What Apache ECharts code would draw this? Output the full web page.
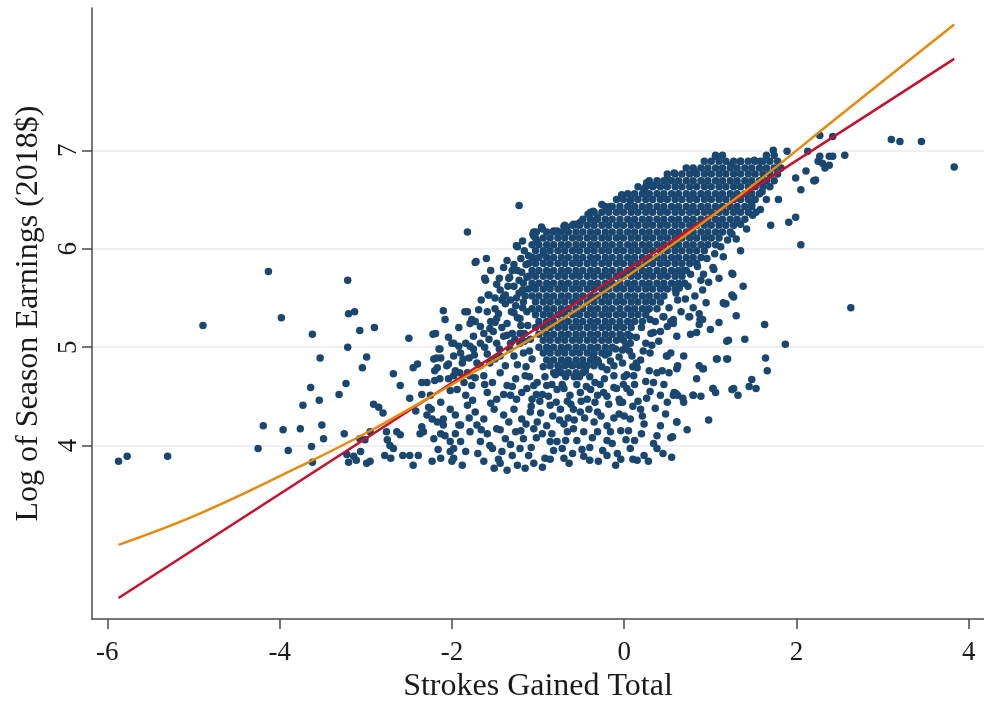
<!DOCTYPE html>
<html>
<head>
<meta charset="utf-8">
<script src="https://cdn.jsdelivr.net/npm/echarts@6/dist/echarts.min.js"></script>
<style>
html,body{margin:0;padding:0;background:#fff;}
#chart{width:984px;height:708px;}
</style>
</head>
<body>
<div id="chart"></div>
<script>
// Tick values shown on each axis
const xTicks = [-6, -4, -2, 0, 2, 4];
const yTicks = [4, 5, 6, 7];

// Player-seasons far from the main cloud (left tail and floor)
const farPoints = [
  [-5.87,3.84],[-5.77,3.89],[-5.30,3.89],[-4.89,5.22],[-4.13,5.77],[-3.98,5.30],[-3.62,5.13],
  [-3.21,5.68],[-3.20,5.34],[-3.13,5.36],[-3.07,5.17],[-2.90,5.20],[-3.21,5.00],[-2.99,4.90],
  [-3.04,4.79],[-3.53,4.89],[-3.64,4.59],[-3.23,4.63],[-3.31,4.52],[-3.73,4.41],[-3.54,4.46],
  [-4.19,4.20],[-3.96,4.16],[-3.76,4.17],[-3.51,4.21],[-3.49,4.07],[-3.25,4.12],[-4.25,3.97],
  [-3.90,3.95],[-3.63,3.99],[-3.62,3.83],[-3.20,3.83],[-3.11,3.85],[-3.22,3.91],[-3.14,3.89],
  [-2.99,3.82],[-2.95,3.84],[-3.07,4.07],[-3.01,4.06],[-2.95,4.14],[-2.91,4.42],[-2.85,4.39],
  [-2.80,4.33],[-2.76,4.14],[-2.75,4.06],[-2.72,4.00],[-2.68,3.97],[-2.78,3.90],[-2.71,3.87],
  [-2.64,4.14],[-2.60,4.11],[-2.57,3.90],[-2.49,3.90],[-2.39,3.90],[-2.45,3.80],[-2.60,4.61],
  [-2.68,4.73],[-2.50,5.09],[-2.49,4.48],[-2.42,4.35],[-2.45,4.79],[-2.40,4.83],[-2.37,4.12],
  [-2.35,4.19],[-2.35,4.52],[-2.35,4.64],[-3.06,3.94]
];

// Fan of points left of the main cloud
const fanPoints = [
  [-1.82,6.17],[-1.22,6.44],[-1.73,5.86],[-1.60,5.90],[-1.40,5.81],[-1.24,6.02],[-1.11,5.93],
  [-1.06,6.15],[-1.01,6.08],[-1.61,5.68],[-1.34,5.70],[-1.24,5.78],[-1.17,5.65],[-1.13,5.71],
  [-1.57,5.53],[-1.44,5.58],[-1.40,5.51],[-1.32,5.48],[-1.22,5.55],[-1.17,5.46],[-1.05,5.61],
  [-2.10,5.37],[-2.08,5.28],[-1.82,5.36],[-1.69,5.38],[-1.59,5.36],[-1.50,5.39],[-1.77,5.28],
  [-1.67,5.21],[-1.55,5.26],[-1.48,5.29],[-1.36,5.24],[-1.28,5.35],[-1.21,5.29],[-1.13,5.36],
  [-2.22,5.13],[-2.19,5.14],[-1.98,5.04],[-1.92,5.01],[-1.84,5.04],[-1.75,4.98],[-1.67,5.04],
  [-1.57,5.08],[-1.48,5.04],[-1.40,5.11],[-1.32,5.04],[-1.21,5.14],[-1.09,5.08],[-1.90,4.94],
  [-1.80,4.89],[-1.71,4.84],[-1.59,4.93],[-1.50,4.88],[-1.38,4.81],[-1.28,4.91],[-1.17,4.94],
  [-1.07,4.88],[-2.06,4.81],[-1.96,4.76],[-2.04,4.68],[-1.82,4.74],[-1.73,4.69],[-1.77,4.61],
  [-1.63,4.71],[-1.53,4.64],[-1.44,4.74],[-1.36,4.61],[-1.26,4.68],[-1.15,4.71],[-1.05,4.61],
  [-1.59,4.54],[-1.48,4.47],[-1.32,4.51],[-1.19,4.54],[-1.07,4.47],[-1.94,4.57],[-1.84,4.51],
  [-2.13,4.44],[-2.02,4.37],[-2.10,4.27],[-1.96,4.31],[-1.82,4.41],[-1.73,4.34],[-1.63,4.27],
  [-1.51,4.37],[-1.40,4.31],[-1.28,4.37],[-1.19,4.27],[-1.09,4.34],[-1.90,4.21],[-1.79,4.14],
  [-1.71,4.21],[-1.59,4.12],[-1.48,4.17],[-1.38,4.07],[-1.26,4.14],[-1.17,4.07],[-1.05,4.17],
  [-1.67,4.04],[-1.53,3.97],[-1.42,3.94],[-1.32,4.01],[-1.21,3.97],[-1.11,3.90],[-1.63,3.84],
  [-1.51,3.77],[-1.44,3.82],[-1.36,3.75],[-1.24,3.80],[-1.15,3.77],[-1.05,3.82],[-1.90,4.04],
  [-1.84,3.94],[-1.98,3.87],[-2.23,3.84],[-2.13,3.87],[-2.02,3.94],[-2.00,3.84],[-2.02,4.04],
  [-1.98,3.97],[-1.92,4.21],[-1.96,4.12],[-2.15,4.98],[-2.21,4.88],[-2.13,4.89],[-2.17,4.79],
  [-2.25,4.51],[-2.27,4.39],[-2.29,4.31],[-2.23,4.27],[-2.17,4.24],[-2.33,4.14],[-2.21,4.07],
  [-2.13,4.12],[-2.10,4.21],[-2.24,4.37],[-2.20,4.66],[-2.29,4.64],[-2.14,4.68],[-1.98,4.71],
  [-1.91,4.74],[-1.79,4.71],[-1.67,4.81],[-1.56,4.84],[-1.44,4.91],[-1.33,4.98],[-1.21,5.04],
  [-1.72,5.87],[-1.25,6.03],[-1.62,5.70],[-1.58,5.53],[-1.33,5.71],[-1.42,5.48],[-1.38,5.53],
  [-1.85,5.36],[-1.79,5.24],[-1.73,5.26],[-1.63,5.14],[-1.56,5.19],[-1.50,5.25],[-2.00,5.04],
  [-2.14,4.98],[-1.98,4.91],[-2.18,4.89],[-2.04,4.83],[-2.20,4.76],[-1.87,4.88],[-1.79,5.01],
  [-1.75,5.11],[-1.04,5.90],[-0.94,5.95],
  [-1.12,5.22],[-1.16,5.06],[-1.10,4.96],[-1.14,4.80],[-1.10,4.70],[-1.13,4.58],[-1.02,4.52],
  [-1.08,4.40],[-1.14,4.22],[-1.02,4.08],[-1.08,3.98],[-1.20,4.15],[-1.25,4.47],[-1.24,4.82],
  [-1.30,4.60],[-1.34,4.24],[-1.30,3.90],[-1.40,4.52],[-1.44,4.16],[-1.46,3.86],[-1.55,4.43],
  [-1.56,4.00],[-1.62,4.62],[-1.66,4.16],[-1.70,3.92],[-1.76,4.46],[-1.80,4.28],[-1.86,4.64],
  [-1.88,4.84],[-1.74,4.92],[-1.62,5.00],[-1.52,5.16],[-1.45,4.98],[-1.42,5.20],[-1.30,5.14],
  [-1.26,5.42],[-1.18,5.58],[-1.28,5.62],[-1.48,5.64],[-1.36,5.88],[-1.14,5.84],[-1.18,6.08],
  [-1.55,5.78],[-1.66,5.48],[-1.92,5.20],[-2.04,5.10],[-2.02,4.56],[-2.08,4.10],[-2.16,3.96],
  [-1.88,3.80],
  [-1.16,5.98],[-1.20,5.90],[-1.28,5.84],[-1.19,5.76],[-1.30,5.78],[-1.22,5.68],[-1.35,5.62],
  [-1.25,5.50],[-1.18,5.40],[-1.31,5.36],[-1.24,5.30],[-1.16,5.14],[-1.38,5.44],[-1.45,5.70],
  [-1.50,5.50],[-1.15,5.52],[-1.20,5.22],[-1.27,5.08],[-1.36,5.12],[-1.46,5.34]
];

// Points below the main cloud, down to the earnings floor
const lowerPoints = [
  [-0.92,3.87],[-0.70,3.87],[-0.47,3.89],[-0.20,3.90],[-0.04,3.86],[0.07,3.97],[0.23,3.90],
  [0.38,3.97],[0.54,4.08],[0.61,4.24],[0.48,4.32],[0.38,4.10],[0.23,4.22],[0.07,4.27],
  [-0.06,4.32],[-0.20,4.05],[-0.31,4.14],[-0.47,4.14],[-0.59,4.17],[-0.66,4.14],[-0.78,4.04],
  [-0.72,3.97],[-0.86,4.04],[-1.01,4.24],[-0.90,4.20],[-0.70,4.22],[-0.51,4.34],[-0.41,4.37],
  [-0.31,4.34],[-0.20,4.20],[-0.04,4.15],[0.05,4.15],[-0.16,4.14],[-0.31,4.51],[-0.24,4.54],
  [-0.06,4.47],[-0.02,4.44],[0.07,4.54],[0.19,4.37],[0.21,4.30],[0.46,4.62],[0.52,4.74],
  [0.58,4.54],[0.62,4.51],[0.44,4.76],[0.38,4.74],[0.29,4.76],[0.15,4.79],[0.03,4.72],
  [-0.01,4.62],[-0.12,4.59],[-0.28,4.62],[-0.39,4.57],[-0.51,4.54],[-0.63,4.51],[-0.78,4.57],
  [-0.90,4.61],[-1.01,4.64],[-0.86,4.41],[-0.74,4.37],[-0.59,4.37],[-0.43,4.47],[0.50,4.91],
  [0.54,4.94],[0.62,4.81],[0.50,5.21],[0.54,5.26],[0.46,5.31],[0.27,5.38],[0.31,5.14],
  [0.25,5.04],[0.07,5.04],[-0.02,4.97],[0.09,4.91],[0.19,4.87],[-0.02,4.84],[-0.12,4.81],
  [-0.12,4.71],[-0.20,4.77],[-0.04,5.12],[0.07,5.11],[-0.98,4.45],[-0.95,4.12],[-0.83,4.30],
  [-0.65,4.28],[-0.55,4.05],[-0.40,3.98],[-0.35,4.24],[-0.25,3.95],[-0.12,4.28],[0.12,4.05],
  [0.16,4.45],[0.30,4.55],[0.34,4.02],[-0.60,3.92],[-0.82,3.95],[-0.95,3.78],[-0.30,3.84],
  [0.15,3.85],[0.45,3.92],[-0.55,4.62],[-0.68,4.70],[-0.40,4.70],[-0.30,4.85],[0.25,4.65],
  [-0.80,4.72],[-0.95,4.52],
  [-0.97,4.33],[-0.88,4.50],[-0.84,4.12],[-0.79,4.44],[-0.75,4.26],[-0.72,4.62],[-0.68,4.05],
  [-0.62,4.42],[-0.58,4.26],[-0.52,4.70],[-0.49,3.96],[-0.46,4.28],[-0.44,4.60],[-0.37,4.08],
  [-0.34,4.44],[-0.27,4.30],[-0.23,4.68],[-0.18,4.42],[-0.14,4.02],[-0.09,4.58],[-0.08,3.92],
  [0.00,4.30],[0.02,4.06],[0.10,4.40],[0.12,4.62],[0.20,4.12],[0.26,4.48],[0.28,3.84],
  [0.36,4.38],[0.42,4.20],[0.50,4.44],[0.55,3.88],[-0.86,3.86],[-0.64,3.82],[-0.40,3.85],
  [-0.10,3.80],[0.10,3.86],[-0.76,4.78],[-0.62,4.82],[-0.48,4.82],[-0.36,4.90],[-0.22,4.92],
  [-0.10,4.98],[0.02,5.02],[0.14,5.10],[0.20,5.20],[0.36,5.26],[0.40,5.06],
  [-0.92,4.70],[-0.84,4.62],[-0.70,4.58],[-0.58,4.70],[-0.45,4.76],[-0.34,4.64],[-0.26,4.80],
  [-0.16,4.86],[-0.06,4.90],[0.06,4.96],[-0.94,4.80],[-0.66,4.45],[-0.50,4.45],[-0.20,4.50],
  [0.00,4.70],[0.10,4.80],[0.22,4.96],[0.32,5.02],[0.42,5.16],[0.30,5.28]
];

// Points to the right of the main cloud
const rightPoints = [
  [2.27,7.15],[2.42,7.14],[3.10,7.11],[3.20,7.09],[3.45,7.09],[3.83,6.83],[2.27,6.94],
  [2.30,6.87],[2.33,6.82],[2.38,6.94],[2.42,6.94],[2.38,6.85],[2.56,6.95],[2.21,6.69],
  [2.22,6.70],[2.63,5.40],[1.73,7.00],[1.89,6.99],[2.13,6.99],[2.25,6.89],[2.11,6.79],
  [2.20,6.69],[2.05,6.60],[1.99,6.72],[1.79,6.50],[1.70,6.24],[1.91,6.27],[1.99,6.32],
  [2.05,6.04],[1.53,6.37],[1.49,6.34],[1.35,5.98],[1.20,6.09],[1.26,5.74],[1.04,5.79],
  [0.92,5.74],[0.89,5.68],[0.77,5.74],[0.69,5.78],[0.71,5.49],[0.62,5.48],[0.91,5.58],
  [1.16,5.44],[1.27,5.51],[1.63,5.23],[1.87,5.03],[1.21,5.07],[1.40,5.08],[1.08,4.88],
  [1.20,4.88],[1.64,4.89],[1.66,4.76],[0.87,4.81],[0.91,4.78],[1.48,4.67],[1.45,4.60],
  [1.53,4.58],[1.03,4.58],[1.06,4.54],[1.25,4.57],[1.32,4.51],[0.80,4.51],[0.89,4.50],
  [0.68,4.48],[0.60,4.53],[0.98,4.26],[0.61,4.24],[0.73,4.16],[0.56,4.09],[0.75,5.31],
  [0.87,5.34],[0.91,5.28],[0.87,5.23],[0.77,5.13],[1.18,5.44],[0.57,5.28],[1.03,5.81],
  [1.25,5.75],[1.25,5.53],[1.15,5.45],[1.19,5.06],[1.07,4.88],[1.19,4.88],[0.92,4.78],
  [0.84,4.68],[1.03,4.58],[1.27,4.58],[0.69,4.91],[0.49,4.91],[0.61,4.78],[0.76,5.31],
  [0.88,5.28],[0.84,5.15],[0.57,5.24],[0.61,5.11],[0.45,5.31],[0.34,5.15],[0.30,4.94],
  [0.14,4.84],[0.11,4.71],[0.03,4.58],[-0.05,4.44],[0.34,4.64],[0.42,4.51],[0.57,4.51],
  [0.69,4.44],[0.80,4.51],
  [0.64,5.60],[0.74,5.62],[0.82,5.52],[0.98,5.66],[1.10,5.70],[0.80,5.40],[0.95,5.45],
  [1.05,5.95],[1.15,5.92],[1.30,6.10],[1.42,6.20],[1.58,6.40],[1.65,6.50],[0.66,5.36],
  [1.00,5.18],[1.30,5.32],[1.38,5.62],[1.10,5.25],
  [0.52,5.40],[0.60,5.55],[0.70,5.65],[0.85,5.82],[0.96,5.90],[1.12,6.02],[1.25,6.15],
  [1.35,6.25],[1.48,6.45],[1.60,6.58]
];

// Ragged upper edge of the main cloud
const edgePoints = [
  [-1.05,6.17],[-0.95,6.20],[-0.82,6.18],[-0.70,6.23],[-0.59,6.25],[-0.51,6.27],[-0.39,6.37],
  [-0.31,6.32],[-0.16,6.43],[-0.02,6.54],[0.07,6.49],[0.23,6.60],[0.34,6.64],[0.50,6.72],
  [0.58,6.77],[-1.05,6.13],[-1.02,6.17],[-0.96,6.22],[-0.78,6.18],[-0.67,6.22],[-0.55,6.25],
  [-0.42,6.35],[-0.36,6.38],[-0.26,6.45],[-0.03,6.55],[0.26,6.67],[0.49,6.70],[0.81,6.80],
  [1.06,6.94],[1.24,6.85],[1.35,6.89],[1.51,6.90],[1.58,6.89],[-1.25,6.03]
];

// Densest part of the cloud, one row of strokes-gained values per earnings level
const coreRows = [
  [6.95,[1.06,1.14,1.65,1.74]],
  [6.89,[0.93,1.01,1.10,1.18,1.27,1.35,1.44,1.52,1.61,1.69,1.78]],
  [6.82,[0.72,0.80,0.89,0.97,1.06,1.14,1.23,1.31,1.40,1.48,1.57,1.65,1.74,1.82]],
  [6.76,[0.50,0.59,0.67,0.76,0.84,0.93,1.01,1.10,1.18,1.27,1.35,1.44,1.52,1.61,1.69,1.78]],
  [6.69,[0.29,0.38,0.46,0.55,0.63,0.72,0.80,0.89,0.97,1.06,1.14,1.23,1.31,1.40,1.48,1.57,1.65,1.74]],
  [6.63,[0.16,0.25,0.33,0.42,0.50,0.59,0.67,0.76,0.84,0.93,1.01,1.10,1.18,1.27,1.35,1.44,1.52,1.61,1.69]],
  [6.56,[0.04,0.12,0.21,0.29,0.38,0.46,0.55,0.63,0.72,0.80,0.89,0.97,1.06,1.14,1.23,1.31,1.40,1.48,1.57]],
  [6.50,[-0.09,-0.01,0.08,0.16,0.25,0.33,0.42,0.50,0.59,0.67,0.76,0.84,0.93,1.01,1.10,1.18,1.27,1.35,1.44,1.52]],
  [6.43,[-0.22,-0.14,-0.05,0.04,0.12,0.21,0.29,0.38,0.46,0.55,0.63,0.72,0.80,0.89,0.97,1.06,1.14,1.23,1.31,1.40,1.48]],
  [6.37,[-0.35,-0.26,-0.18,-0.09,-0.01,0.08,0.16,0.25,0.33,0.42,0.50,0.59,0.67,0.76,0.84,0.93,1.01,1.10,1.18,1.27,1.35,1.44]],
  [6.30,[-0.48,-0.39,-0.31,-0.22,-0.14,-0.05,0.04,0.12,0.21,0.29,0.38,0.46,0.55,0.63,0.72,0.80,0.89,0.97,1.06,1.14,1.23,1.31,1.40]],
  [6.24,[-0.69,-0.60,-0.52,-0.43,-0.35,-0.26,-0.18,-0.09,-0.01,0.08,0.16,0.25,0.33,0.42,0.50,0.59,0.67,0.76,0.84,0.93,1.01,1.10,1.18,1.27]],
  [6.17,[-0.90,-0.82,-0.73,-0.65,-0.56,-0.48,-0.39,-0.31,-0.22,-0.14,-0.05,0.04,0.12,0.21,0.29,0.38,0.46,0.55,0.63,0.72,0.80,0.89,0.97,1.06,1.14,1.23]],
  [6.11,[-1.03,-0.94,-0.86,-0.77,-0.69,-0.60,-0.52,-0.43,-0.35,-0.26,-0.18,-0.09,-0.01,0.08,0.16,0.25,0.33,0.42,0.50,0.59,0.67,0.76,0.84,0.93,1.01,1.10]],
  [6.04,[-1.07,-0.99,-0.90,-0.82,-0.73,-0.65,-0.56,-0.48,-0.39,-0.31,-0.22,-0.14,-0.05,0.04,0.12,0.21,0.29,0.38,0.46,0.55,0.63,0.72,0.80,0.89,0.97,1.06]],
  [5.98,[-1.03,-0.94,-0.86,-0.77,-0.69,-0.60,-0.52,-0.43,-0.35,-0.26,-0.18,-0.09,-0.01,0.08,0.16,0.25,0.33,0.42,0.50,0.59,0.67,0.76,0.84,0.93]],
  [5.91,[-1.07,-0.99,-0.90,-0.82,-0.73,-0.65,-0.56,-0.48,-0.39,-0.31,-0.22,-0.14,-0.05,0.04,0.12,0.21,0.29,0.38,0.46,0.55,0.63,0.72,0.80,0.89]],
  [5.85,[-1.11,-1.03,-0.94,-0.86,-0.77,-0.69,-0.60,-0.52,-0.43,-0.35,-0.26,-0.18,-0.09,-0.01,0.08,0.16,0.25,0.33,0.42,0.50,0.59,0.67,0.76,0.84]],
  [5.78,[-1.07,-0.99,-0.90,-0.82,-0.73,-0.65,-0.56,-0.48,-0.39,-0.31,-0.22,-0.14,-0.05,0.04,0.12,0.21,0.29,0.38,0.46,0.55,0.63,0.72]],
  [5.72,[-1.11,-1.03,-0.94,-0.86,-0.77,-0.69,-0.60,-0.52,-0.43,-0.35,-0.26,-0.18,-0.09,-0.01,0.08,0.16,0.25,0.33,0.42,0.50,0.59,0.67]],
  [5.65,[-1.07,-0.99,-0.90,-0.82,-0.73,-0.65,-0.56,-0.48,-0.39,-0.31,-0.22,-0.14,-0.05,0.04,0.12,0.21,0.29,0.38,0.46,0.55,0.63]],
  [5.59,[-1.11,-1.03,-0.94,-0.86,-0.77,-0.69,-0.60,-0.52,-0.43,-0.35,-0.26,-0.18,-0.09,-0.01,0.08,0.16,0.25,0.33,0.42,0.50,0.59]],
  [5.52,[-1.07,-0.99,-0.90,-0.82,-0.73,-0.65,-0.56,-0.48,-0.39,-0.31,-0.22,-0.14,-0.05,0.04,0.12,0.21,0.29,0.38,0.46]],
  [5.46,[-1.03,-0.94,-0.86,-0.77,-0.69,-0.60,-0.52,-0.43,-0.35,-0.26,-0.18,-0.09,-0.01,0.08,0.16,0.25,0.33,0.42]],
  [5.39,[-1.07,-0.99,-0.90,-0.82,-0.73,-0.65,-0.56,-0.48,-0.39,-0.31,-0.22,-0.14,-0.05,0.04,0.12,0.21,0.29,0.38]],
  [5.33,[-1.03,-0.94,-0.86,-0.77,-0.69,-0.60,-0.52,-0.43,-0.35,-0.26,-0.18,-0.09,-0.01,0.08,0.16,0.25]],
  [5.26,[-0.99,-0.90,-0.82,-0.73,-0.65,-0.56,-0.48,-0.39,-0.31,-0.22,-0.14,-0.05,0.04,0.12,0.21]],
  [5.20,[-1.03,-0.94,-0.86,-0.77,-0.69,-0.60,-0.52,-0.43,-0.35,-0.26,-0.18,-0.09,-0.01,0.08]],
  [5.13,[-0.99,-0.90,-0.82,-0.73,-0.65,-0.56,-0.48,-0.39,-0.31,-0.22,-0.14,-0.05,0.04]],
  [5.07,[-0.94,-0.86,-0.77,-0.69,-0.60,-0.52,-0.43,-0.35,-0.26,-0.18,-0.09,-0.01]],
  [5.00,[-0.99,-0.90,-0.82,-0.73,-0.65,-0.56,-0.48,-0.39,-0.31,-0.22,-0.14]],
  [4.94,[-0.94,-0.86,-0.77,-0.69,-0.60,-0.52,-0.43,-0.35,-0.26,-0.18]],
  [4.87,[-0.90,-0.82,-0.73,-0.65,-0.56,-0.48,-0.39,-0.31]],
  [4.81,[-0.86,-0.77,-0.69,-0.60,-0.52,-0.43,-0.35]],
  [4.74,[-0.82,-0.73,-0.65,-0.56,-0.48]]
];

// Linear fit, read at its two ends
const linearX = [-5.87, 3.83];
const linearY = [2.45, 7.93];

// Quadratic fit, read along its length
const quadX = [-5.87, -4.92, -3.76, -2.99, -2.14, -1.00, 0.00, 1.35, 2.51, 3.83];
const quadY = [2.99, 3.31, 3.79, 4.13, 4.55, 5.13, 5.70, 6.55, 7.36, 8.28];

const corePoints = [];
coreRows.forEach(function (row) {
  row[1].forEach(function (x) { corePoints.push([x, row[0]]); });
});
const scatterData = farPoints.concat(fanPoints, lowerPoints, rightPoints, edgePoints, corePoints);
const zip = (xs, ys) => xs.map((x, i) => [x, ys[i]]);

const serif = '"Liberation Serif", "Times New Roman", serif';
const chart = echarts.init(document.getElementById('chart'), null, { renderer: 'canvas' });
chart.setOption({
  animation: false,
  backgroundColor: '#ffffff',
  grid: { left: 92, right: 0, top: 8, bottom: 82 },
  xAxis: {
    type: 'value',
    min: -6.178,
    max: 4.176,
    name: 'Strokes Gained Total',
    nameLocation: 'middle',
    nameGap: 46,
    nameTextStyle: { fontFamily: serif, fontSize: 32, color: '#1a1a1a' },
    axisLine: { show: true, onZero: false, lineStyle: { color: '#4a4a4a', width: 1.5 } },
    axisTick: { show: true, customValues: xTicks, length: 10, lineStyle: { color: '#4a4a4a', width: 1.5 } },
    axisLabel: { customValues: xTicks, fontFamily: serif, fontSize: 27, color: '#1a1a1a', margin: 20 },
    splitLine: { show: false }
  },
  yAxis: {
    type: 'value',
    min: 2.236,
    max: 8.447,
    name: 'Log of Season Earnings (2018$)',
    nameLocation: 'middle',
    nameGap: 47,
    nameTextStyle: { fontFamily: serif, fontSize: 32, color: '#1a1a1a' },
    axisLine: { show: true, onZero: false, lineStyle: { color: '#4a4a4a', width: 1.5 } },
    axisTick: { show: true, customValues: yTicks, length: 10, lineStyle: { color: '#4a4a4a', width: 1.5 } },
    axisLabel: { customValues: yTicks, rotate: 90, fontFamily: serif, fontSize: 27, color: '#1a1a1a', margin: 10 },
    splitLine: { show: true, lineStyle: { color: '#ebebeb', width: 1.5 } }
  },
  series: [
    {
      name: 'Season',
      type: 'scatter',
      data: scatterData,
      symbol: 'circle',
      symbolSize: 7.5,
      itemStyle: { color: '#1a476f', opacity: 1 },
      z: 2
    },
    {
      name: 'Linear fit',
      type: 'line',
      data: zip(linearX, linearY),
      showSymbol: false,
      lineStyle: { color: '#c8102e', width: 2.5 },
      z: 3
    },
    {
      name: 'Quadratic fit',
      type: 'line',
      data: zip(quadX, quadY),
      smooth: 0.4,
      showSymbol: false,
      lineStyle: { color: '#e8890c', width: 2.5 },
      z: 4
    }
  ]
});
</script>
</body>
</html>
